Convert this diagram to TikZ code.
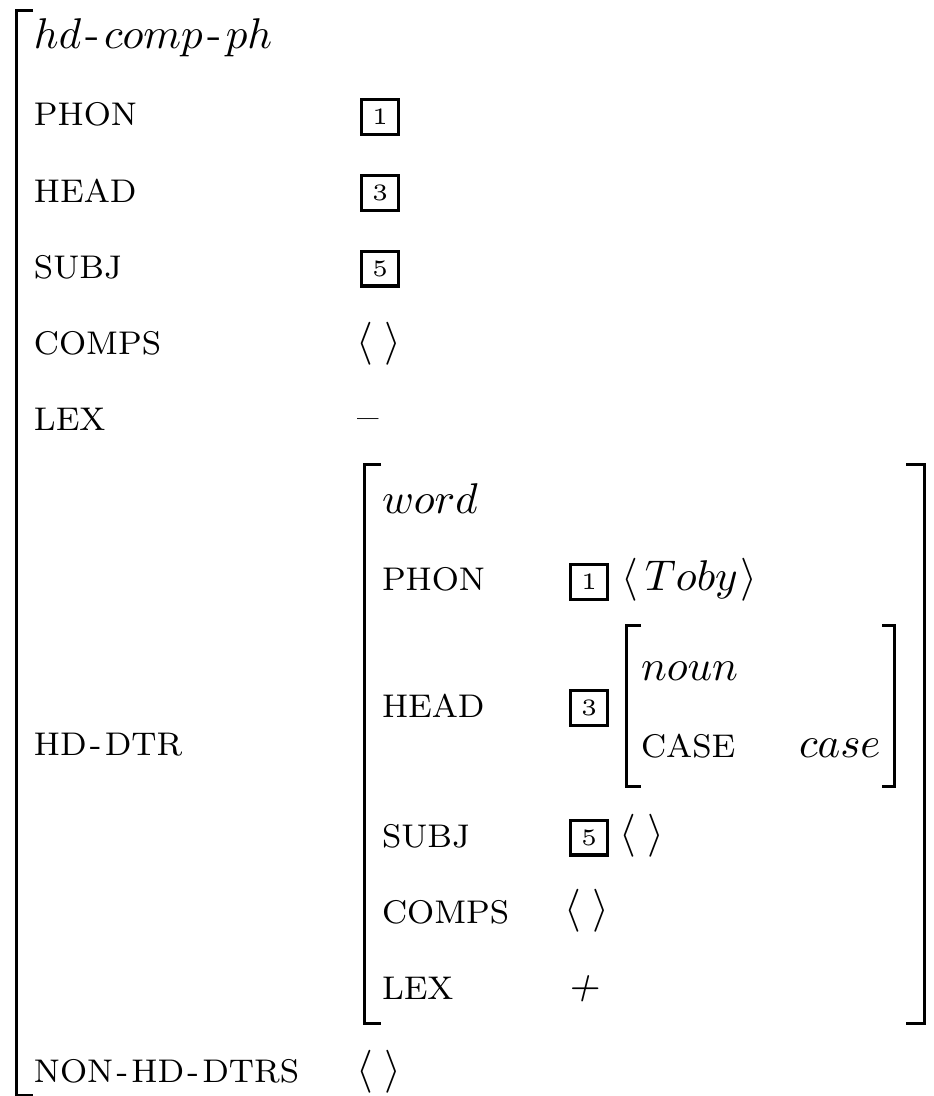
\documentclass[tikz,border=0pt]{standalone}
\usepackage{graphicx}
\newcommand\avmhy{\kern0.1em-\kern0.1em}
\newcommand\avmtag[1]{\scalebox{4.7}{\fontsize{5}{6}\selectfont #1}}
\begin{document}
\begin{tikzpicture}[x=1pt,y=1pt,
 lab/.style={anchor=base west,inner sep=0pt,outer sep=0pt,font=\fontsize{8}{10}\selectfont,scale=4.1,transform shape},
 ityp/.style={anchor=base west,inner sep=0pt,outer sep=0pt,font=\fontsize{10}{12}\selectfont,scale=4.3,transform shape},
 tagbox/.style={draw,line width=3.2pt,minimum width=36.8pt,minimum height=34.8pt,inner sep=0pt},
 brk/.style={line width=3pt}]
\useasboundingbox (0,0) rectangle (934,-1096);
% outer AVM
\node[ityp] (typ0) at (34,-48) {$hd$\avmhy$comp$\avmhy$ph$};
\node[lab] (phon0) at (34,-125) {PHON};
\node[tagbox] (t1a) at (380,-117) {\avmtag{1}};
\node[lab] (head0) at (34,-202) {HEAD};
\node[tagbox] (t3a) at (380,-193) {\avmtag{3}};
\node[lab] (subj0) at (34,-278) {SUBJ};
\node[tagbox] (t5a) at (380,-268.5) {\avmtag{5}};
\node[lab] (comps0) at (34,-354) {COMPS};
\node[ityp] (cv0) at (356,-354) {$\langle\;\rangle$};
\node[lab] (lex0) at (34,-430) {LEX};
\node[ityp] (lv0) at (357,-430) {\textendash};
\node[lab] (hd0) at (34,-755) {HD\avmhy DTR};
\node[lab] (nhd0) at (34,-1082) {NON\avmhy HD\avmhy DTRS};
\node[ityp] (nv0) at (356,-1082) {$\langle\;\rangle$};
% inner AVM
\node[ityp] (typ1) at (382,-513) {$word$};
\node[lab] (phon1) at (382,-590) {PHON};
\node[tagbox] (t1b) at (589,-582) {\avmtag{1}};
\node[ityp] (toby) at (621,-590) {$\langle\,Toby\kern0.06em\rangle$};
\node[lab] (head1) at (382,-717) {HEAD};
\node[tagbox] (t3b) at (589,-708) {\avmtag{3}};
\node[ityp] (typ2) at (641,-680) {$noun$};
\node[lab] (case) at (641,-757) {CASE};
\node[ityp] (casev) at (799,-757) {$case$};
\node[lab] (subj1) at (382,-847) {SUBJ};
\node[tagbox] (t5b) at (589,-837.5) {\avmtag{5}};
\node[ityp] (sv1) at (619,-846) {$\langle\;\rangle$};
\node[lab] (comps1) at (382,-923) {COMPS};
\node[ityp] (cv1) at (564,-921) {$\langle\;\rangle$};
\node[lab] (lex1) at (382,-999) {LEX};
\node[ityp] (lv1) at (566,-999) {\textit{+}};
% brackets
\draw[brk] (33,-10) -- (16.5,-10) -- (16.5,-1095.5) -- (33,-1095.5);
\draw[brk] (381,-464) -- (364.5,-464) -- (364.5,-1023) -- (381,-1023);
\draw[brk] (906,-464) -- (924.5,-464) -- (924.5,-1023) -- (906,-1023);
\draw[brk] (641,-625) -- (626,-625) -- (626,-786) -- (641,-786);
\draw[brk] (882,-625) -- (894.5,-625) -- (894.5,-786) -- (882,-786);
\end{tikzpicture}
\end{document}
